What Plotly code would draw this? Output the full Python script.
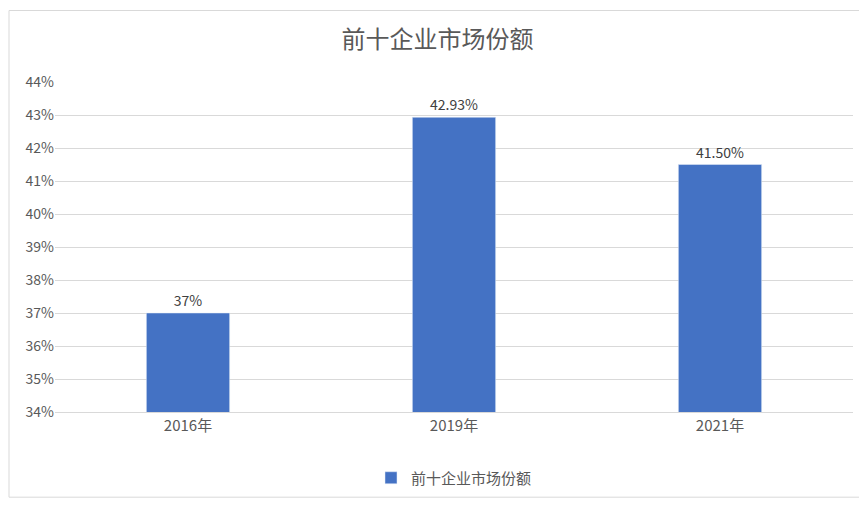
import plotly.graph_objects as go

categories = ["2016年", "2019年", "2021年"]
values = [37, 42.93, 41.5]
labels = ["37%", "42.93%", "41.50%"]
tick_vals = list(range(34, 45))
tick_text = [f"{v}%" for v in tick_vals]

fig = go.Figure(go.Bar(
    x=categories, y=values, name="前十企业市场份额",
    marker_color="#4472C4", text=labels, textposition="outside",
    textfont=dict(size=14, color="#404040"), cliponaxis=False,
))
fig.update_layout(
    width=859, height=499,
    margin=dict(l=47, r=14, t=74, b=88),
    paper_bgcolor="white", plot_bgcolor="white",
    font=dict(family="Noto Sans CJK SC", color="#595959", size=14),
    title=dict(text="前十企业市场份额", x=0.5, xanchor="center", y=0.937, yanchor="middle",
               font=dict(size=24, color="#595959")),
    bargap=0.687,
    showlegend=True,
    legend=dict(orientation="h", x=0.5, xanchor="center", y=-0.2, yanchor="middle",
                font=dict(size=15, color="#595959")),
    shapes=[dict(type="rect", xref="paper", yref="paper", x0=-46/798, x1=1+13/798,
                 y0=-87/337, y1=1+73/337, line=dict(color="#D9D9D9", width=1))],
)
fig.update_yaxes(range=[34, 44], tickvals=tick_vals, ticktext=tick_text,
                 showgrid=True, gridcolor="#D9D9D9", zeroline=False,
                 tickfont=dict(size=14, color="#595959"))
fig.update_xaxes(showline=True, linecolor="#D9D9D9", tickfont=dict(size=15, color="#595959"))
fig.write_html("out.html")
